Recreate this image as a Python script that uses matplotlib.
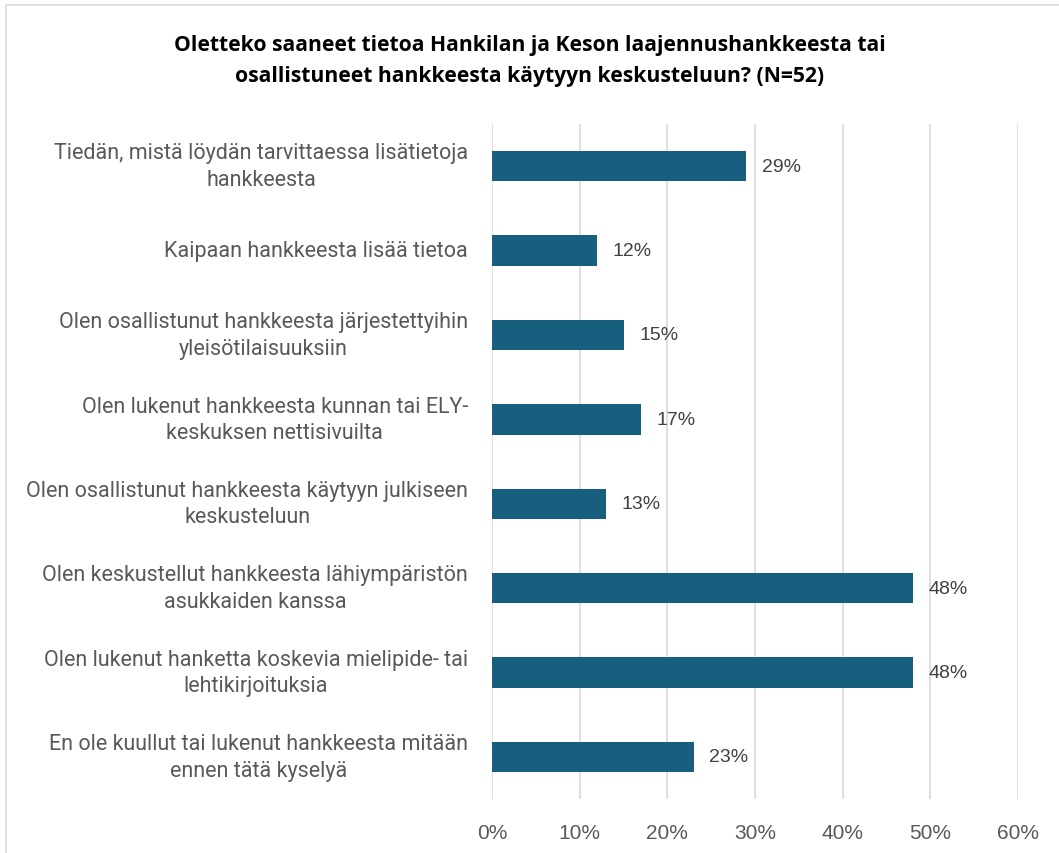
import matplotlib.pyplot as plt
from matplotlib.patches import Rectangle
from matplotlib import font_manager

categories = [
    "Tiedän, mistä löydän tarvittaessa lisätietoja\nhankkeesta",
    "Kaipaan hankkeesta lisää tietoa",
    "Olen osallistunut hankkeesta järjestettyihin\nyleisötilaisuuksiin",
    "Olen lukenut hankkeesta kunnan tai ELY-\nkeskuksen nettisivuilta",
    "Olen osallistunut hankkeesta käytyyn julkiseen\nkeskusteluun",
    "Olen keskustellut hankkeesta lähiympäristön\nasukkaiden kanssa",
    "Olen lukenut hanketta koskevia mielipide- tai\nlehtikirjoituksia",
    "En ole kuullut tai lukenut hankkeesta mitään\nennen tätä kyselyä",
]
values = [29, 12, 15, 17, 13, 48, 48, 23]
xticks = [0, 10, 20, 30, 40, 50, 60]
title = ("Oletteko saaneet tietoa Hankilan ja Keson laajennushankkeesta tai\n"
         "osallistuneet hankkeesta käytyyn keskusteluun? (N=52)")

names = {f.name for f in font_manager.fontManager.ttflist}
tick_font = "Liberation Sans Narrow" if "Liberation Sans Narrow" in names else "Liberation Sans"

bar_color = "#175E7F"
text_gray = "#595959"

fig = plt.figure(figsize=(10.59, 8.54), dpi=100)
fig.patches.append(Rectangle((6 / 1059, -0.05), 1.1, 1 - 6 / 854 + 0.05,
                             transform=fig.transFigure, fill=False,
                             edgecolor="#D9D9D9", lw=1.2))

ax = fig.add_axes([492 / 1059, 1 - 800 / 854, (1018 - 492) / 1059, (800 - 125) / 854])
ypos = list(range(len(categories)))
ax.barh(ypos, values, height=0.36, color=bar_color, zorder=3)
for y, v in zip(ypos, values):
    ax.text(v + 1.8, y, f"{v}%", va="center", ha="left", fontsize=14,
            color="#404040", family="Liberation Sans")

# category labels: block right-aligned, lines centred (Excel style)
ytrans = ax.get_yaxis_transform()
for y, cat in zip(ypos, categories):
    ax.annotate(cat, xy=(0, y), xycoords=ytrans, xytext=(-24, 0),
                textcoords="offset pixels", ha="right", va="center",
                multialignment="center", family="Roboto", fontsize=15.5,
                color=text_gray, linespacing=1.35, annotation_clip=False)

ax.set_xlim(0, 60)
ax.set_ylim(7.5, -0.5)
ax.set_xticks(xticks)
ax.set_xticklabels([f"{t}%" for t in xticks], family=tick_font, fontsize=15, color=text_gray)
ax.set_yticks([])
ax.tick_params(axis="x", length=0, pad=17)
ax.grid(axis="x", color="#D9D9D9", lw=1.2, zorder=0)
for s in ax.spines.values():
    s.set_visible(False)

fig.text(0.5, 1 - 61 / 854, title, ha="center", va="center", fontsize=15.2,
         fontweight="bold", family="Open Sans", color="#000000", linespacing=1.6)

fig.savefig("out.png", dpi=100)
